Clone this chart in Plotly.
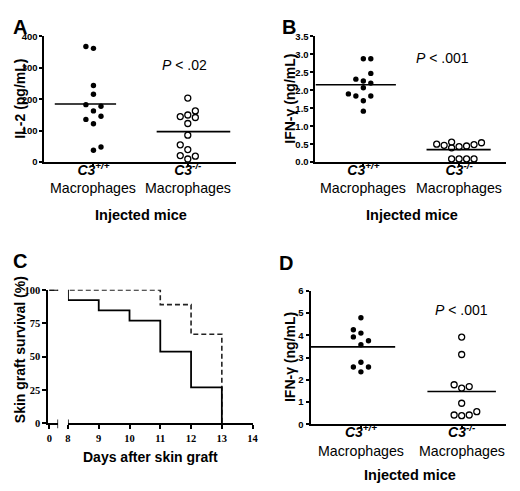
import plotly.graph_objects as go

# The page adds an 8px body margin, so the figure is 16px smaller than the window
# and every layout position below is given in window pixels and converted.
WIN_W, WIN_H = 520, 491
OFF = 8
FW, FH = WIN_W - 2 * OFF, WIN_H - 2 * OFF

# ---------------- data ----------------
# Panel A: IL-2 (pg/mL)
a_wt = [368, 362, 244, 216, 183, 178, 163, 146, 136, 122, 48, 38]
a_ko = [204, 163, 150, 145, 142, 123, 86, 55, 40, 21, 19, 10]
a_means = [185, 97]
a_ticks = [0, 100, 200, 300, 400]

# Panel B: IFN-gamma (ng/mL)
b_wt = [2.88, 2.88, 2.47, 2.31, 2.26, 2.20, 2.07, 1.90, 1.84, 1.84, 1.71, 1.42]
b_ko = [0.50, 0.47, 0.56, 0.40, 0.43, 0.45, 0.49, 0.54, 0.09, 0.09, 0.09, 0.09]
b_means = [2.155, 0.35]
b_ticks = [0.0, 0.5, 1.0, 1.5, 2.0, 2.5, 3.0, 3.5]

# Panel C: skin graft survival (%)
c_days_solid = [0, 8, 9, 10, 11, 12, 13]
c_surv_solid = [100, 92.3, 84.6, 76.9, 53.8, 26.9, 0]
c_days_dash = [0, 11, 12, 13]
c_surv_dash = [100, 88.9, 66.7, 0]
c_day_ticks = [8, 9, 10, 11, 12, 13, 14]
c_surv_ticks = [0, 25, 50, 75, 100]

# Panel D: IFN-gamma (ng/mL)
d_wt = [4.79, 4.25, 4.10, 3.93, 3.76, 3.58, 2.79, 2.58, 2.58, 2.36]
d_ko = [3.92, 3.14, 1.78, 1.70, 1.63, 0.95, 0.42, 0.39, 0.42, 0.57]
d_means = [3.48, 1.48]
d_ticks = [0, 1, 2, 3, 4, 5, 6]

cat_sup = ["+/+", "-/-"]
cat_second = "Macrophages"
x_title = "Injected mice"

# ---------------- styling (column-scatter spreading) ----------------
a_wt_off = [-1, 0, 0, 0, -1, 1, 0, 1, -1, 0, 1, 0]
a_ko_off = [0, 1, 0, -1, 1, 0, 0, -1, 0, -1, 1, 0]
b_wt_off = [0, 1, 1, -1, 0, 1, 0, -2, -1, 1, 0, 0]
b_ko_off = [-3, -2, -1, -1, 0, 1, 2, 3, -1, 0, 1, 2]
d_wt_off = [0, -1, 0, -1, 1, 0, 0, -1, 1, 0]
d_ko_off = [0, 0, -1, 1, 0, 0, -1, 0, 1, 2]

SANS = "Liberation Sans, Arial, sans-serif"
SERIF = "Liberation Serif, Times New Roman, serif"


def fx(p):
    return min(1.0, max(0.0, (p - OFF) / FW))


def fy(p):
    return min(1.0, max(0.0, 1 - (p - OFF) / FH))


def dx(a, b):
    return [fx(a), fx(b)]


def dy(top, bottom):
    return [fy(bottom), fy(top)]


fig = go.Figure()


def add_scatter(xa, ya, vals, offs, cat, step, filled):
    xs = [cat + o * step for o in offs]
    fig.add_trace(go.Scatter(
        x=xs, y=vals, mode="markers", xaxis=xa, yaxis=ya, cliponaxis=False,
        marker=dict(symbol="circle" if filled else "circle-open", size=5.4 if filled else 6.0,
                    color="black", line=dict(width=1.3 if not filled else 0, color="black")),
        hoverinfo="skip"))


def add_mean(xa, ya, val, x0, x1):
    fig.add_trace(go.Scatter(x=[x0, x1], y=[val, val], mode="lines", xaxis=xa, yaxis=ya,
                             line=dict(color="black", width=1.6), cliponaxis=False, hoverinfo="skip"))


# Panel A
add_scatter("x", "y", a_wt, a_wt_off, 0, 0.08, True)
add_scatter("x", "y", a_ko, a_ko_off, 1, 0.08, False)
add_mean("x", "y", a_means[0], -0.41, 0.24)
add_mean("x", "y", a_means[1], 0.67, 1.45)
# Panel B
add_scatter("x2", "y2", b_wt, b_wt_off, 0, 0.078, True)
add_scatter("x2", "y2", b_ko, b_ko_off, 1, 0.078, False)
add_mean("x2", "y2", b_means[0], -0.5, 0.34)
add_mean("x2", "y2", b_means[1], 0.66, 1.33)
# Panel D
add_scatter("x5", "y4", d_wt, d_wt_off, 0, 0.075, True)
add_scatter("x5", "y4", d_ko, d_ko_off, 1, 0.075, False)
add_mean("x5", "y4", d_means[0], -0.5, 0.34)
add_mean("x5", "y4", d_means[1], 0.66, 1.34)

# Panel C (broken x axis: left segment x3, right segment x4)
for xa in ["x3", "x4"]:
    fig.add_trace(go.Scatter(x=c_days_dash, y=c_surv_dash, mode="lines", xaxis=xa, yaxis="y3",
                             line=dict(color="#222222", width=1.6, dash="5px,3px", shape="hv"),
                             hoverinfo="skip"))
    fig.add_trace(go.Scatter(x=c_days_solid, y=c_surv_solid, mode="lines", xaxis=xa, yaxis="y3",
                             line=dict(color="black", width=1.8, shape="hv"), hoverinfo="skip"))


def bold_labels(vals, fmt="{}"):
    return ["<b>%s</b>" % fmt.format(v) for v in vals]


tickfont = dict(family=SANS, size=9.5, color="black")
serif_font = dict(family=SERIF, size=10.5, color="black")
cat_ticktext = ["<b><i>C3</i></b><sup><b><i>%s</i></b></sup>" % s for s in cat_sup]
axis_common = dict(showline=True, linecolor="black", linewidth=2, showgrid=False, zeroline=False,
                   ticks="outside", tickcolor="black", tickwidth=1.5, fixedrange=True)

xcat = dict(axis_common, tickmode="array", tickvals=[0, 1], ticktext=cat_ticktext, ticklen=3,
            ticklabelstandoff=-9, tickfont=dict(family=SANS, size=14, color="black"))

fig.update_layout(
    width=FW, height=FH, margin=dict(l=0, r=0, t=0, b=0),
    paper_bgcolor="white", plot_bgcolor="white", showlegend=False,
    xaxis=dict(xcat, domain=dx(42, 237), range=[-0.52, 1.51], anchor="y"),
    yaxis=dict(axis_common, domain=dy(31, 160), range=[0, 400], tickmode="array", tickvals=a_ticks,
               ticktext=bold_labels(a_ticks), ticklen=3, tickfont=tickfont, anchor="x"),
    xaxis2=dict(xcat, domain=dx(318, 512), range=[-0.5, 1.49], anchor="y2"),
    yaxis2=dict(axis_common, domain=dy(31, 160), range=[0, 3.5], tickmode="array", tickvals=b_ticks,
                ticktext=bold_labels(b_ticks, "{:.1f}"), ticklen=3, tickfont=tickfont, anchor="x2"),
    xaxis3=dict(axis_common, domain=dx(46, 56), range=[-0.1, 0.9], tickmode="array", tickvals=[0],
                ticktext=bold_labels([0]), ticklen=4, tickfont=serif_font, anchor="y3"),
    xaxis4=dict(axis_common, domain=dx(66, 254), range=[8, 14], tickmode="array", tickvals=c_day_ticks,
                ticktext=bold_labels(c_day_ticks), ticklen=4, tickfont=serif_font, anchor="y3"),
    yaxis3=dict(axis_common, domain=dy(291, 428), range=[0, 100], tickmode="array", tickvals=c_surv_ticks,
                ticktext=bold_labels(c_surv_ticks), ticklen=4, tickfont=serif_font, anchor="x3"),
    xaxis5=dict(xcat, domain=dx(313, 512), range=[-0.5, 1.44], anchor="y4"),
    yaxis4=dict(axis_common, domain=dy(292, 429), range=[0, 6], tickmode="array", tickvals=d_ticks,
                ticktext=bold_labels(d_ticks), ticklen=3, tickfont=tickfont, anchor="x5"),
)

# end caps of the broken axis in panel C
for xa, xv in [("x3", 0.9), ("x4", 8)]:
    fig.add_shape(type="line", xref=xa, yref="paper", x0=xv, x1=xv, y0=fy(433), y1=fy(424),
                  line=dict(color="black", width=1.5))

ann = []


def text(x, y, s, size, bold=False, xref="paper", yref="paper", angle=0, family=SANS,
         xanchor="center", yanchor="middle"):
    if bold:
        s = "<b>%s</b>" % s
    ann.append(dict(x=x, y=y, xref=xref, yref=yref, text=s, showarrow=False, textangle=angle,
                    font=dict(family=family, size=size, color="black"),
                    xanchor=xanchor, yanchor=yanchor))


# panel letters
text(fx(8), fy(8), "A", 20, bold=True, xanchor="left", yanchor="top")
text(fx(291), fy(8), "B", 20, bold=True, yanchor="top")
text(fx(8), fy(261), "C", 20, bold=True, xanchor="left")
text(fx(288), fy(263), "D", 20, bold=True)

# y titles
text(fx(17), fy(95), "IL-2 (pg/mL)", 14, bold=True, angle=-90)
text(fx(292), fy(95), "IFN-γ (ng/mL)", 14, bold=True, angle=-90)
text(fx(17), fy(352), "Skin graft survival (%)", 14, bold=True, angle=-90)
text(fx(292), fy(360), "IFN-γ (ng/mL)", 14, bold=True, angle=-90)

# second line of category labels and x titles
for xa, yrow in [("x", 187), ("x2", 187), ("x5", 456)]:
    for c in [0, 1]:
        text(c, fy(yrow), cat_second, 14.2, xref=xa)
text(fx(140), fy(214), x_title, 14.5, bold=True)
text(fx(416), fy(214), x_title, 14.5, bold=True)
text(fx(414), fy(481), x_title, 14.5, bold=True)
text(fx(150), fy(462), "Days after skin graft", 14, bold=True)

# P values
text(0.97, 310, "<i>P</i> < .02", 14, xref="x", yref="y")
text(0.83, 2.9, "<i>P</i> < .001", 14, xref="x2", yref="y2")
text(0.995, 5.12, "<i>P</i> < .001", 14, xref="x5", yref="y4")

fig.update_layout(annotations=ann)
fig.write_html("out.html", config={"displayModeBar": False})
